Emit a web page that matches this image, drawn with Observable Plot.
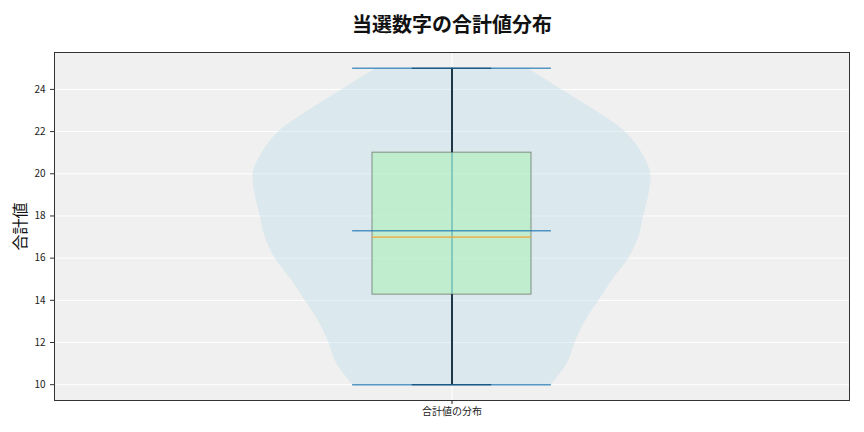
<!DOCTYPE html>
<html><head><meta charset="utf-8">
<script src="https://cdn.jsdelivr.net/npm/d3@7"></script>
<script src="https://cdn.jsdelivr.net/npm/@observablehq/plot@0.6"></script>
<style>body{margin:0;background:#fff;}</style>
</head><body><div id="chart"></div>
<script>
const titleText = "当選数字の合計値分布";
const yLabel = "合計値";
const category = "合計値の分布";
const yTicks = [10, 12, 14, 16, 18, 20, 22, 24];
// violin profile: sum value -> relative density
const violinSums = [10, 11, 12, 13, 14, 15, 16, 17, 18, 19, 20, 21, 22, 23, 24, 25];
const violinDensity = [0.5, 0.58, 0.62, 0.67, 0.74, 0.81, 0.89, 0.94, 0.965, 0.99, 1.0, 0.955, 0.87, 0.72, 0.55, 0.38];
// box stats: min, q1, median, q3, max
const boxStats = [10, 14.27, 17, 21, 25];
const meanValue = 17.3;

const pos = 1;
const violinHalf = 0.25;
const violin = violinSums.map((s, i) => ({y: s, w: violinDensity[i] * violinHalf}));
const [mn, q1, med, q3, mx] = boxStats;
const font = "'Noto Sans CJK JP', 'Noto Sans', sans-serif";
const blue = "#1f77b4";

const chart = Plot.plot({
  width: 864, height: 432,
  marginTop: 52, marginBottom: 32, marginLeft: 54, marginRight: 15,
  style: {fontFamily: font, background: "#fff"},
  x: {domain: [0.5, 1.5], axis: null},
  y: {domain: [9.25, 25.75], axis: null},
  marks: [
    Plot.frame({fill: "#f0f0f0"}),
    Plot.gridY(yTicks, {stroke: "#fff", strokeOpacity: 1, strokeWidth: 1}),
    Plot.ruleX([pos], {stroke: "#fff", strokeWidth: 1}),
    Plot.areaX(violin, {y: "y", x1: d => pos - d.w, x2: d => pos + d.w, fill: "#add8e6", fillOpacity: 0.32, curve: "catmull-rom"}),
    Plot.ruleX([pos], {y1: mn, y2: mx, stroke: blue, strokeOpacity: 0.7, strokeWidth: 2}),
    Plot.rect([0], {x1: pos - 0.1, x2: pos + 0.1, y1: q1, y2: q3, fill: "#a8f0b4", fillOpacity: 0.55, stroke: "#7f8f83", strokeWidth: 1}),
    Plot.ruleX([pos], {y1: mn, y2: q1, stroke: "#000", strokeWidth: 1.3}),
    Plot.ruleX([pos], {y1: q3, y2: mx, stroke: "#000", strokeWidth: 1.3}),
    Plot.ruleY([mn, mx], {x1: pos - 0.05, x2: pos + 0.05, stroke: "#000", strokeWidth: 1.3}),
    Plot.ruleY([mn, mx, meanValue], {x1: pos - 0.125, x2: pos + 0.125, stroke: blue, strokeOpacity: 0.75, strokeWidth: 1.6}),
    Plot.ruleY([med], {x1: pos - 0.1, x2: pos + 0.1, stroke: "#f5a030", strokeWidth: 1.2}),
    Plot.frame({stroke: "#333", strokeWidth: 1}),
    Plot.axisY(yTicks, {tickSize: 4, fontSize: 10, label: null, stroke: "#333", color: "#222"}),
    Plot.axisX([pos], {tickSize: 4, fontSize: 10, label: null, tickFormat: () => category, tickPadding: 3, color: "#222"}),
    Plot.text([yLabel], {text: d => d, frameAnchor: "left", textAnchor: "middle", lineAnchor: "middle", rotate: -90, dx: -34, fontSize: 16, fill: "#111"}),
    Plot.text([titleText], {text: d => d, frameAnchor: "top", textAnchor: "middle", lineAnchor: "middle", dy: -27, fontSize: 20, fontWeight: "bold", fill: "#111"})
  ]
});
document.getElementById("chart").appendChild(chart);
</script>
</body></html>
